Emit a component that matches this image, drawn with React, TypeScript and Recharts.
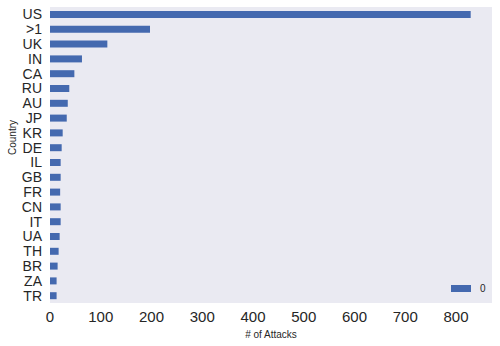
import React from "react";
import { BarChart, Bar, XAxis, YAxis, CartesianGrid } from "recharts";

const countries = ["US", ">1", "UK", "IN", "CA", "RU", "AU", "JP", "KR", "DE", "IL", "GB", "FR", "CN", "IT", "UA", "TH", "BR", "ZA", "TR"];
const attacks = [829, 197, 113, 63, 48, 38, 35, 33, 25, 23, 21, 21, 20, 21, 21, 19, 17, 15, 13, 13];
const xTicks = [0, 100, 200, 300, 400, 500, 600, 700, 800];
const seriesName = "0";

const data = countries.map((c, i) => ({ country: c, value: attacks[i] }));

const FONT = "Liberation Sans, Arial, sans-serif";
const BAR = "#4469AF";

export default function App() {
  return (
    <div style={{ position: "absolute", left: 0, top: 0, width: 500, height: 346, background: "#fff" }}>
      <BarChart
        width={500}
        height={346}
        data={data}
        layout="vertical"
        margin={{ top: 7, right: 8, left: 0, bottom: 0 }}
        barSize={7}
      >
        <CartesianGrid horizontal={false} vertical={false} fill="#EAEAF2" stroke="none" />
        <XAxis
          type="number"
          domain={[0, 871]}
          ticks={xTicks}
          height={43}
          axisLine={false}
          tickLine={false}
          tick={{ fontSize: 15, fill: "#262626", fontFamily: FONT }}
          label={{ value: "# of Attacks", position: "insideBottom", offset: 8, fontSize: 10, fill: "#262626", fontFamily: FONT }}
        />
        <YAxis
          type="category"
          dataKey="country"
          width={50}
          axisLine={false}
          tickLine={false}
          interval={0}
          tick={{ fontSize: 14, fill: "#262626", fontFamily: FONT }}
          label={{ value: "Country", angle: -90, position: "insideLeft", offset: 12, fontSize: 10, fill: "#262626", fontFamily: FONT }}
        />
        <Bar dataKey="value" name={seriesName} fill={BAR} isAnimationActive={false} />
      </BarChart>
      <div
        style={{
          position: "absolute",
          left: 451,
          top: 283,
          display: "flex",
          alignItems: "center",
          fontFamily: FONT,
          fontSize: 10,
          color: "#262626",
        }}
      >
        <div style={{ width: 20, height: 7, background: BAR, marginRight: 9 }} />
        <span>{seriesName}</span>
      </div>
    </div>
  );
}
